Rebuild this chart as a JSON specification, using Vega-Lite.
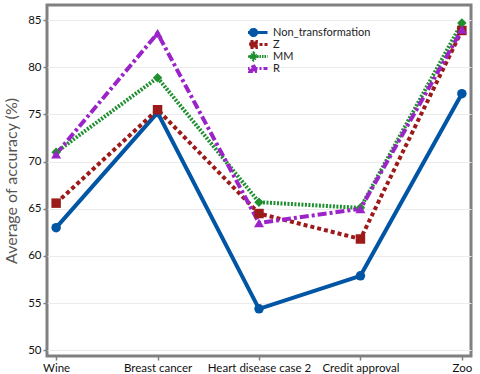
{
  "$schema": "https://vega.github.io/schema/vega-lite/v6.json",
  "width": 424,
  "height": 351,
  "autosize": {"type": "none"},
  "padding": {"left": 47, "top": 5, "right": 9, "bottom": 18},
  "background": "white",
  "config": {
    "font": "Lato",
    "view": {"stroke": "#808080", "strokeWidth": 3},
    "axis": {
      "domain": false,
      "gridColor": "#ebebeb",
      "gridWidth": 1,
      "tickColor": "#808080",
      "tickWidth": 1.5,
      "tickSize": 4,
      "labelColor": "#111111",
      "labelFontSize": 11.5,
      "titleColor": "#555555",
      "titleFontSize": 16,
      "titleFontWeight": "normal"
    }
  },
  "data": {
    "values": [
      {"dataset": "Wine", "series": "Non_transformation", "acc": 63.0},
      {"dataset": "Breast cancer", "series": "Non_transformation", "acc": 75.2},
      {"dataset": "Heart disease case 2", "series": "Non_transformation", "acc": 54.4},
      {"dataset": "Credit approval", "series": "Non_transformation", "acc": 57.9},
      {"dataset": "Zoo", "series": "Non_transformation", "acc": 77.2},
      {"dataset": "Wine", "series": "Z", "acc": 65.6},
      {"dataset": "Breast cancer", "series": "Z", "acc": 75.5},
      {"dataset": "Heart disease case 2", "series": "Z", "acc": 64.5},
      {"dataset": "Credit approval", "series": "Z", "acc": 61.8},
      {"dataset": "Zoo", "series": "Z", "acc": 83.9},
      {"dataset": "Wine", "series": "MM", "acc": 71.0},
      {"dataset": "Breast cancer", "series": "MM", "acc": 78.9},
      {"dataset": "Heart disease case 2", "series": "MM", "acc": 65.7},
      {"dataset": "Credit approval", "series": "MM", "acc": 65.1},
      {"dataset": "Zoo", "series": "MM", "acc": 84.7},
      {"dataset": "Wine", "series": "R", "acc": 70.8},
      {"dataset": "Breast cancer", "series": "R", "acc": 83.6},
      {"dataset": "Heart disease case 2", "series": "R", "acc": 63.5},
      {"dataset": "Credit approval", "series": "R", "acc": 65.0},
      {"dataset": "Zoo", "series": "R", "acc": 84.0}
    ]
  },
  "encoding": {
    "x": {
      "field": "dataset",
      "type": "nominal",
      "sort": ["Wine", "Breast cancer", "Heart disease case 2", "Credit approval", "Zoo"],
      "scale": {"type": "point", "padding": 0.09},
      "axis": {"title": null, "labelAngle": 0, "labelPadding": 2, "labelOverlap": false}
    },
    "y": {
      "field": "acc",
      "type": "quantitative",
      "scale": {"domain": [49.4, 86.6], "nice": false, "zero": false},
      "axis": {"title": "Average of accuracy (%)", "values": [50, 55, 60, 65, 70, 75, 80, 85], "titlePadding": 8, "labelPadding": 2}
    },
    "color": {
      "field": "series",
      "type": "nominal",
      "scale": {
        "domain": ["Non_transformation", "Z", "MM", "R"],
        "range": ["#0055a4", "#9c1a1a", "#1f8f2f", "#9b24c9"]
      },
      "legend": {
        "title": null,
        "orient": "none",
        "legendX": 201,
        "legendY": 22,
        "padding": 0,
        "labelFontSize": 11,
        "labelColor": "#222222",
        "labelOffset": 14,
        "symbolSize": 4,
        "rowPadding": 0,
        "clipHeight": 11,
        "encode": {
          "symbols": {
            "update": {
              "shape": {"signal": "datum.value === 'Non_transformation' ? 'M-14,0L14,0M-3.2,0A3.2,3.2,0,1,0,3.2,0A3.2,3.2,0,1,0,-3.2,0' : datum.value === 'Z' ? 'M-14,0L14,0M-3,-3L3,-3L3,3L-3,3Z' : datum.value === 'MM' ? 'M-14,0L14,0M0,-3.6L3.6,0L0,3.6L-3.6,0Z' : 'M-14,0L14,0M0,-3.6L3.8,3L-3.8,3Z'"},
              "fill": {"signal": "scale('color', datum.value)"},
              "stroke": {"signal": "scale('color', datum.value)"},
              "strokeWidth": {"value": 2.8},
              "strokeDash": {"signal": "datum.value === 'Non_transformation' ? [1,0] : datum.value === 'Z' ? [3,2] : datum.value === 'MM' ? [1.5,1] : [6,2,2,2]"},
              "opacity": {"value": 1}
            }
          }
        }
      }
    }
  },
  "layer": [
    {
      "transform": [{"filter": "datum.series === 'Non_transformation'"}],
      "mark": {"type": "line", "strokeWidth": 4}
    },
    {
      "transform": [{"filter": "datum.series === 'Z'"}],
      "mark": {"type": "line", "strokeWidth": 4, "strokeDash": [4, 3]}
    },
    {
      "transform": [{"filter": "datum.series === 'MM'"}],
      "mark": {"type": "line", "strokeWidth": 4, "strokeDash": [2, 1.5]}
    },
    {
      "transform": [{"filter": "datum.series === 'R'"}],
      "mark": {"type": "line", "strokeWidth": 4, "strokeDash": [9, 3, 3, 3]}
    },
    {
      "transform": [{"filter": "datum.series === 'Non_transformation'"}],
      "mark": {"type": "point", "filled": true, "opacity": 1, "size": 90, "shape": "circle"}
    },
    {
      "transform": [{"filter": "datum.series === 'Z'"}],
      "mark": {"type": "point", "filled": true, "opacity": 1, "size": 90, "shape": "square"}
    },
    {
      "transform": [{"filter": "datum.series === 'MM'"}],
      "mark": {"type": "point", "filled": true, "opacity": 1, "size": 90, "shape": "diamond"}
    },
    {
      "transform": [{"filter": "datum.series === 'R'"}],
      "mark": {"type": "point", "filled": true, "opacity": 1, "size": 100, "shape": "triangle-up"}
    }
  ]
}
